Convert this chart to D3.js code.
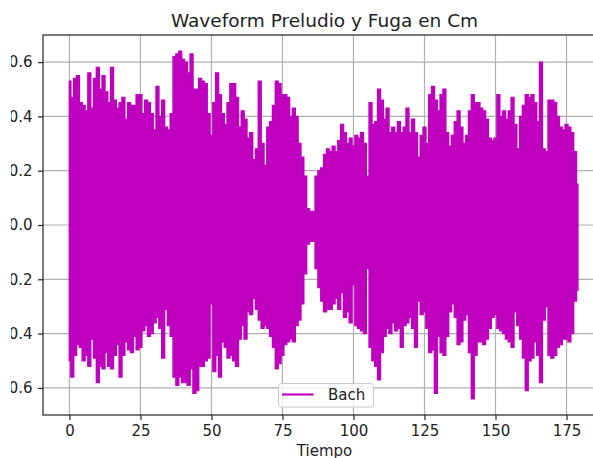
<!DOCTYPE html>
<meta charset="utf-8">
<script src="https://d3js.org/d3.v7.min.js"></script>
<style>
  body { margin: 0; background: #fff; }
  text { font-family: "DejaVu Sans", sans-serif; }
</style>
<div id="my_dataviz"></div>
<script>

// envelope of the waveform, one value per second (0 .. 179 s)
var picoSuperior = [
  0.53, 0.47, 0.54, 0.55, 0.45, 0.44, 0.42, 0.56, 0.43, 0.54,
  0.58, 0.50, 0.55, 0.49, 0.45, 0.58, 0.46, 0.43, 0.45, 0.47,
  0.39, 0.45, 0.44, 0.44, 0.48, 0.48, 0.41, 0.46, 0.45, 0.41,
  0.35, 0.51, 0.40, 0.46, 0.36, 0.35, 0.41, 0.62, 0.63, 0.64,
  0.61, 0.60, 0.56, 0.63, 0.50, 0.50, 0.54, 0.53, 0.52, 0.41,
  0.33, 0.45, 0.56, 0.48, 0.41, 0.37, 0.45, 0.52, 0.52, 0.47,
  0.36, 0.42, 0.39, 0.32, 0.34, 0.24, 0.28, 0.53, 0.30, 0.22,
  0.36, 0.38, 0.44, 0.53, 0.52, 0.48, 0.48, 0.47, 0.40, 0.43,
  0.40, 0.30, 0.25, 0.18, 0.06, 0.05, 0.05, 0.18, 0.20, 0.21,
  0.26, 0.28, 0.27, 0.29, 0.27, 0.31, 0.37, 0.34, 0.30, 0.32,
  0.29, 0.33, 0.32, 0.34, 0.30, 0.18, 0.45, 0.37, 0.38, 0.50,
  0.46, 0.39, 0.43, 0.34, 0.36, 0.34, 0.38, 0.34, 0.36, 0.43,
  0.34, 0.39, 0.34, 0.25, 0.33, 0.36, 0.30, 0.48, 0.51, 0.46,
  0.42, 0.48, 0.50, 0.34, 0.29, 0.33, 0.38, 0.42, 0.36, 0.30,
  0.33, 0.42, 0.48, 0.45, 0.45, 0.43, 0.42, 0.39, 0.32, 0.31,
  0.32, 0.48, 0.40, 0.42, 0.39, 0.42, 0.47, 0.37, 0.28, 0.40,
  0.44, 0.48, 0.47, 0.48, 0.45, 0.38, 0.60, 0.28, 0.27, 0.46,
  0.46, 0.45, 0.40, 0.36, 0.35, 0.37, 0.36, 0.34, 0.27, 0.15
];
var picoInferior = [
  -0.50, -0.56, -0.48, -0.44, -0.45, -0.50, -0.48, -0.52, -0.42, -0.49,
  -0.58, -0.52, -0.53, -0.47, -0.52, -0.53, -0.48, -0.44, -0.56, -0.48,
  -0.43, -0.46, -0.47, -0.41, -0.46, -0.45, -0.39, -0.37, -0.41, -0.40,
  -0.36, -0.34, -0.38, -0.49, -0.31, -0.37, -0.41, -0.56, -0.59, -0.56,
  -0.58, -0.58, -0.59, -0.53, -0.62, -0.61, -0.52, -0.52, -0.50, -0.49,
  -0.29, -0.54, -0.48, -0.56, -0.43, -0.45, -0.49, -0.48, -0.50, -0.52,
  -0.42, -0.37, -0.42, -0.32, -0.33, -0.27, -0.31, -0.35, -0.38, -0.37,
  -0.38, -0.41, -0.45, -0.53, -0.51, -0.48, -0.44, -0.43, -0.42, -0.43,
  -0.37, -0.35, -0.29, -0.18, -0.07, -0.06, -0.06, -0.16, -0.23, -0.28,
  -0.32, -0.31, -0.31, -0.29, -0.27, -0.31, -0.25, -0.34, -0.32, -0.36,
  -0.22, -0.37, -0.38, -0.39, -0.40, -0.16, -0.45, -0.50, -0.52, -0.57,
  -0.47, -0.41, -0.38, -0.40, -0.36, -0.39, -0.38, -0.45, -0.37, -0.36,
  -0.34, -0.38, -0.45, -0.28, -0.33, -0.32, -0.38, -0.47, -0.46, -0.62,
  -0.41, -0.47, -0.48, -0.41, -0.32, -0.29, -0.34, -0.44, -0.43, -0.35,
  -0.33, -0.47, -0.64, -0.48, -0.43, -0.43, -0.44, -0.42, -0.38, -0.34,
  -0.33, -0.38, -0.39, -0.40, -0.42, -0.43, -0.45, -0.32, -0.37, -0.42,
  -0.49, -0.61, -0.50, -0.49, -0.43, -0.48, -0.58, -0.35, -0.30, -0.48,
  -0.49, -0.48, -0.45, -0.44, -0.42, -0.42, -0.43, -0.40, -0.28, -0.24
];

var xTicks = [0, 25, 50, 75, 100, 125, 150, 175];
var yTicks = [-0.6, -0.4, -0.2, 0.0, 0.2, 0.4, 0.6];

var titulo = "Waveform Preludio y Fuga en Cm";
var etiquetaX = "Tiempo";
var serie = "Bach";

// the picture is a crop of the figure: the right part of the axes is off screen
var margin = {top: 35, left: 43},
    width = 563,
    height = 380,
    color = "#bf00bf";

var svg = d3.select("#my_dataviz")
  .append("svg")
    .attr("width", 593)
    .attr("height", 458);

svg.append("clipPath")
    .attr("id", "crop")
  .append("rect")
    .attr("x", 11).attr("y", 0)
    .attr("width", 582).attr("height", 458);

var g = svg.append("g")
    .attr("clip-path", "url(#crop)")
  .append("g")
    .attr("transform", "translate(" + margin.left + "," + margin.top + ")");

var x = d3.scaleLinear()
  .domain([-9.3, 188.9])
  .range([0, width]);

var y = d3.scaleLinear()
  .domain([-0.70, 0.70])
  .range([height, 0]);

// grid
g.append("g").selectAll("line")
  .data(xTicks)
  .enter().append("line")
    .attr("x1", function(d) { return x(d); })
    .attr("x2", function(d) { return x(d); })
    .attr("y1", 0)
    .attr("y2", height)
    .attr("stroke", "#b0b0b0")
    .attr("stroke-width", 1.2);

g.append("g").selectAll("line")
  .data(yTicks)
  .enter().append("line")
    .attr("x1", 0)
    .attr("x2", width)
    .attr("y1", function(d) { return y(d); })
    .attr("y2", function(d) { return y(d); })
    .attr("stroke", "#b0b0b0")
    .attr("stroke-width", 1.2);

// waveform as its envelope
var area = d3.area()
  .curve(d3.curveStep)
  .x(function(d, i) { return x(i); })
  .y0(function(d, i) { return y(picoInferior[i]); })
  .y1(function(d) { return y(d); });

g.append("path")
  .datum(picoSuperior)
  .attr("d", area)
  .attr("fill", color)
  .attr("stroke", color)
  .attr("stroke-width", 1.5);

// axes
var xAxis = g.append("g")
  .attr("transform", "translate(0," + height + ")")
  .call(d3.axisBottom(x).tickValues(xTicks).tickSize(5).tickPadding(5.5));

var yAxis = g.append("g")
  .call(d3.axisLeft(y).tickValues(yTicks).tickSize(5).tickPadding(5.5).tickFormat(d3.format(".1f")));

[xAxis, yAxis].forEach(function(a) {
  a.select(".domain").remove();
  a.selectAll("line").attr("stroke", "#222").attr("stroke-width", 1.2);
  a.selectAll("text")
    .attr("fill", "#222")
    .style("font-size", "15px")
    .style("font-family", "DejaVu Sans, sans-serif");
});

// frame
g.append("rect")
  .attr("width", width)
  .attr("height", height)
  .attr("fill", "none")
  .attr("stroke", "#222")
  .attr("stroke-width", 1.2);

// legend
var legend = g.append("g")
  .attr("transform", "translate(" + (278.5 - margin.left) + "," + (383.5 - margin.top) + ")");

legend.append("rect")
  .attr("width", 95)
  .attr("height", 23.5)
  .attr("rx", 3)
  .attr("fill", "#fff")
  .attr("fill-opacity", 0.8)
  .attr("stroke", "#cccccc");

legend.append("line")
  .attr("x1", 3.5).attr("x2", 35)
  .attr("y1", 11).attr("y2", 11)
  .attr("stroke", color)
  .attr("stroke-width", 2.2);

legend.append("text")
  .attr("x", 49.5)
  .attr("y", 16)
  .attr("fill", "#222")
  .style("font-size", "15px")
  .text(serie);

// titles
svg.append("text")
  .attr("x", margin.left + width / 2)
  .attr("y", 27)
  .style("text-anchor", "middle")
  .style("font-size", "18.5px")
  .attr("fill", "#222")
  .text(titulo);

svg.append("text")
  .attr("x", margin.left + width / 2)
  .attr("y", 456)
  .style("text-anchor", "middle")
  .style("font-size", "15px")
  .attr("fill", "#222")
  .text(etiquetaX);

</script>
